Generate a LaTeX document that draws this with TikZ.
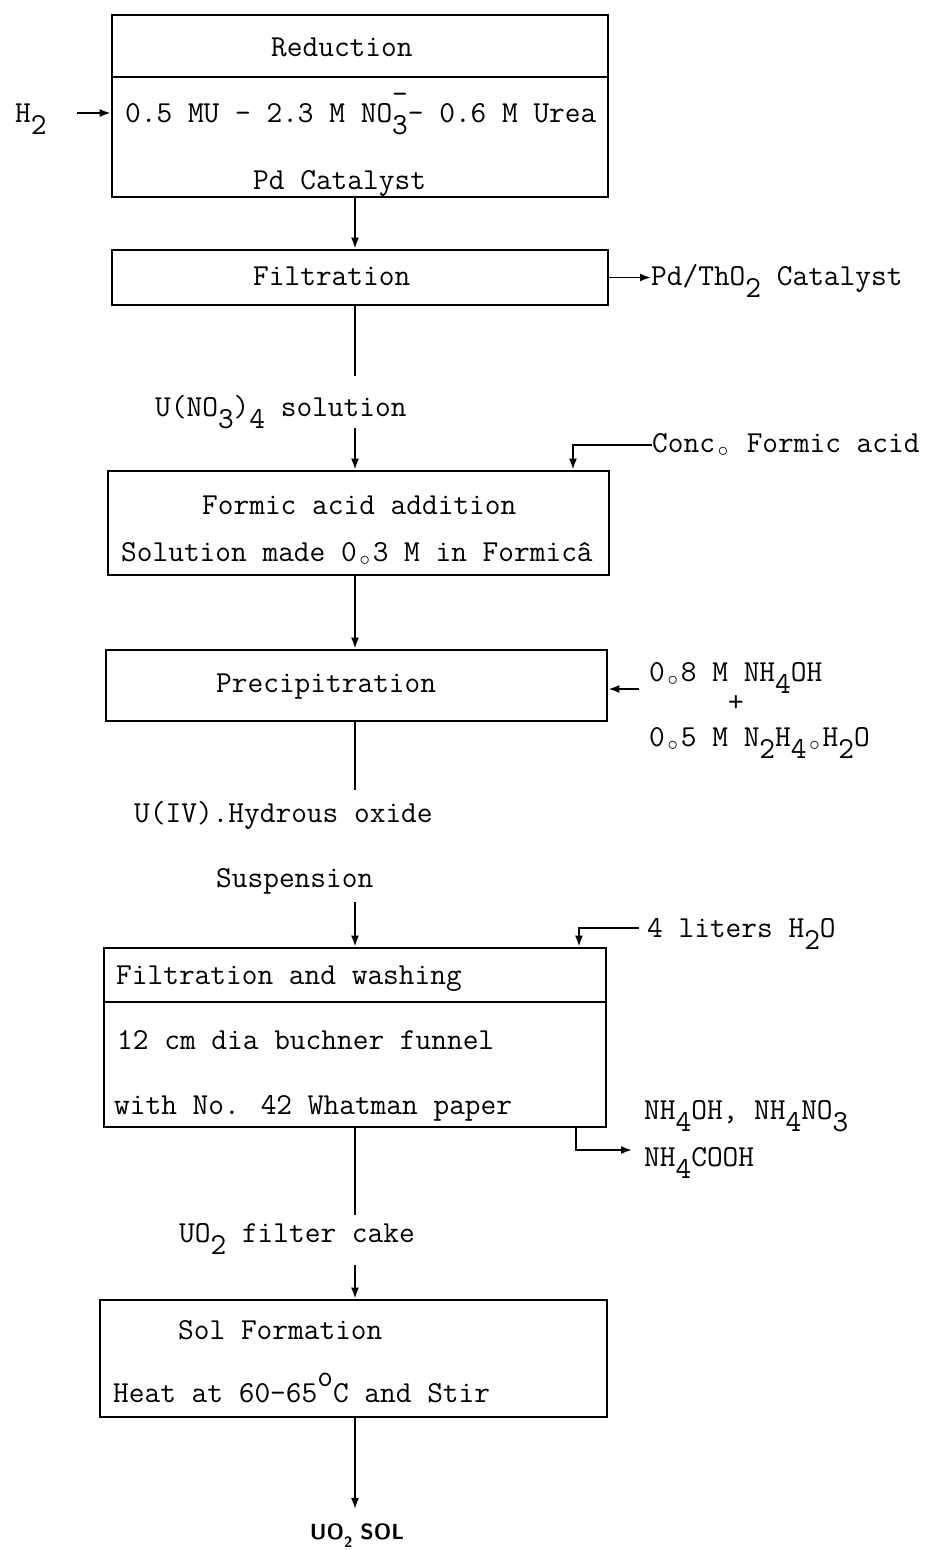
\documentclass[tikz,border=0pt]{standalone}
\usetikzlibrary{arrows.meta}
\newcommand\dn[1]{\raisebox{-0.42em}{#1}}
\newcommand\rg{\makebox[0.525em]{\raisebox{-0.14em}{$\scriptstyle\circ$}}}
\newcommand\tw{\fontsize{30.5}{36}\selectfont\ttfamily}
\tikzset{
  box/.style={draw, line width=2.8pt, inner sep=0pt},
  sepline/.style={line width=2.8pt},
  conn/.style={line width=1.8pt},
  arr/.style={conn, -{Latex[length=11pt,width=8pt]}},
  lbl/.style={anchor=base west, inner sep=0pt, font=\tw},
}
\begin{document}
\begin{tikzpicture}[x=1pt,y=-1pt]
\fill[white] (0,0) rectangle (924,1550);
\useasboundingbox (0,0) rectangle (924,1550);

% boxes
\node[box, minimum width=496pt, minimum height=182pt] (red) at (360,106) {};
\node[box, minimum width=496pt, minimum height=55pt] (filt) at (360,277.5) {};
\node[box, minimum width=501pt, minimum height=104pt] (formic) at (358.5,523) {};
\node[box, minimum width=501pt, minimum height=71pt] (precip) at (356.5,685.5) {};
\node[box, minimum width=502pt, minimum height=179pt] (fw) at (355,1037.5) {};
\node[box, minimum width=507pt, minimum height=117pt] (sol) at (353.5,1358.5) {};
\draw[sepline] (red.west |- 0,77) -- (red.east |- 0,77);
\draw[sepline] (fw.west |- 0,1002) -- (fw.east |- 0,1002);

% texts
\node[lbl] (tred) at (271,56) {Reduction};
\node[lbl] (tmix) at (125,122) {0.5 MU - 2.3 M NO\makebox[0pt][l]{\raisebox{0.6em}{-}}\dn{3}- 0.6 M Urea};
\node[lbl] (tpd) at (253,189) {Pd Catalyst};
\node[lbl] (th2) at (15,122) {H\dn{2}};
\node[lbl] (tfilt) at (253,285) {Filtration};
\node[lbl] (pdc) at (651,285) {Pd/ThO\dn{2} Catalyst};
\node[lbl] (tun) at (155,416) {U(NO\dn{3})\dn{4} solution};
\node[lbl] (conc) at (652,452) {Conc\rg{} Formic acid};
\node[lbl] (tfa) at (202,514) {Formic acid addition};
\node[lbl] (tsm) at (121,561) {Solution made 0\rg{}3 M in Formicâ};
\node[lbl] (tpr) at (216,692) {Precipitration};
\node[lbl] (tnh) at (649,681) {0\rg{}8 M NH\dn{4}OH};
\node[anchor=base, inner sep=0pt, font=\tw] (tplus) at (736,711) {+};
\node[lbl] (thy) at (649,746) {0\rg{}5 M N\dn{2}H\dn{4}\rg{}H\dn{2}O};
\node[lbl] (tiv) at (134,822) {U(IV)\rlap{.} Hydrous oxide};
\node[lbl] (tsus) at (216,887) {Suspension};
\node[lbl] (twat) at (647,937) {4 liters H\dn{2}O};
\node[lbl] (tfw) at (116,984) {Filtration and washing};
\node[lbl] (tbu) at (117,1049) {12 cm dia buchner funnel};
\node[lbl] (twh) at (114,1114) {with No. 42 Whatman paper};
\node[lbl] (tout1) at (644,1119) {NH\dn{4}OH, NH\dn{4}NO\dn{3}};
\node[lbl] (tout2) at (644,1166) {NH\dn{4}COOH};
\node[lbl] (tcake) at (179,1242) {UO\dn{2} filter cake};
\node[lbl] (tsol) at (178,1339) {Sol Formation};
\node[lbl] (theat) at (113,1402) {Heat at 60-65\raisebox{0.5em}{o}C and Stir};
\node[anchor=base, inner sep=0pt, font=\fontsize{22}{22}\selectfont\sffamily\bfseries] (uosol) at (357,1539) {UO\raisebox{-0.4em}{\fontsize{15}{15}\selectfont 2} SOL};

% main spine connectors
\coordinate (spine) at (355,0);
\draw[arr] (red.south -| spine) -- (filt.north -| spine);
\coordinate (a1) at (355,376);
\draw[conn] (filt.south -| spine) -- (a1);
\coordinate (a2) at (355,428);
\draw[arr] (a2) -- (formic.north -| spine);
\draw[arr] (formic.south -| spine) -- (precip.north -| spine);
\coordinate (a3) at (355,790);
\draw[conn] (precip.south -| spine) -- (a3);
\coordinate (a4) at (355,902);
\draw[arr] (a4) -- (fw.north -| spine);
\coordinate (a5) at (355,1215);
\draw[conn] (fw.south -| spine) -- (a5);
\coordinate (a6) at (355,1265);
\draw[arr] (a6) -- (sol.north -| spine);
\coordinate (a7) at (355,1509);
\draw[arr] (sol.south -| spine) -- (a7);

% side connectors
\coordinate (h2s) at (77,113);
\draw[arr] (h2s) -- (h2s -| red.west);
\draw[arr] (filt.east) -- (filt.east -| pdc.west);
\coordinate (cfx) at (573,0);
\draw[arr] (conc.west) -| (formic.north -| cfx);
\coordinate (pin) at (639,689);
\draw[arr] (pin) -- (pin -| precip.east);
\coordinate (w1) at (639,928);
\coordinate (wx) at (579,0);
\draw[arr] (w1) -| (fw.north -| wx);
\coordinate (ox) at (576,0);
\coordinate (oe) at (632,1150);
\draw[arr] (fw.south -| ox) |- (oe);
\end{tikzpicture}
\end{document}
